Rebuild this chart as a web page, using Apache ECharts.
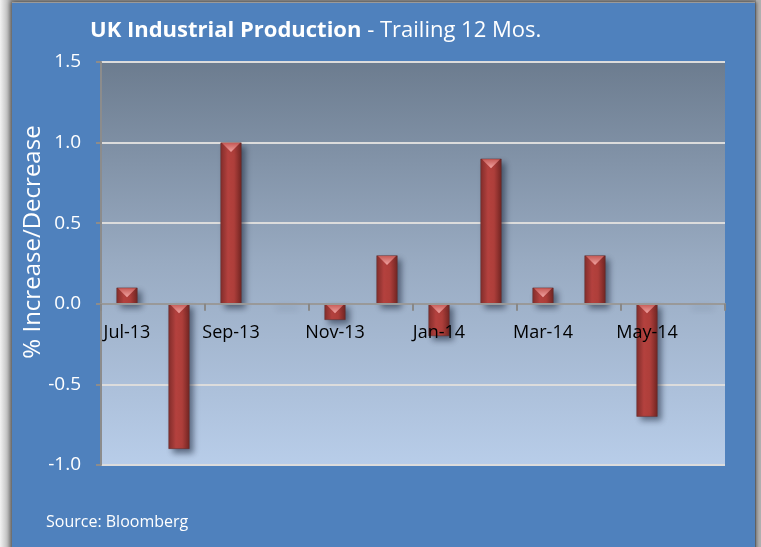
<!DOCTYPE html>
<html>
<head>
<meta charset="utf-8">
<script src="https://cdn.jsdelivr.net/npm/echarts@6/dist/echarts.min.js"></script>
<style>
  html,body{margin:0;padding:0;width:761px;height:547px;overflow:hidden;
    background:linear-gradient(to right,#f2f2f2 0px,#c4c4c4 7px,#8f8f8f 12px);}
  #panel{position:absolute;left:12px;top:2px;width:743px;height:560px;background:#4f81bd;
    border-top:1px solid #9a9a9a;box-shadow:2px 0 3px rgba(0,0,0,0.35),-2px 0 4px rgba(0,0,0,0.3);}
  #rightEdge{position:absolute;left:756px;top:0;width:5px;height:547px;background:#b0b0b0;}
  #main{position:absolute;left:0;top:0;width:761px;height:547px;}
</style>
</head>
<body>
<div id="rightEdge"></div>
<div id="panel"></div>
<div id="main"></div>
<script>
// data
let months=["Jul-13","Aug-13","Sep-13","Oct-13","Nov-13","Dec-13","Jan-14","Feb-14","Mar-14","Apr-14","May-14","Jun-14"]
let change=[0.1,-0.9,1.0,0,-0.1,0.3,-0.2,0.9,0.1,0.3,-0.7,0]
let yTicks={min:-1.0,max:1.5,step:0.5}

let font="Open Sans"
let myChart=echarts.init(document.getElementById("main"))

// top end of each bar, for the bevel highlight
let capData=change.map((v,i)=>v===0?null:[i,Math.max(v,0)])

// the category axis sits on the zero line, labels under it
let gridTop=62,gridBottom=82,plotH=547-gridTop-gridBottom
let zeroOffset=-plotH*(0-yTicks.min)/(yTicks.max-yTicks.min)

myChart.setOption({
  backgroundColor:"transparent",
  animation:false,
  textStyle:{fontFamily:font},
  title:{
    text:"{b|UK Industrial Production}{n| - Trailing 12 Mos.}",
    left:85,
    top:15,
    textStyle:{
      rich:{
        b:{color:"#fff",fontSize:22,fontWeight:"bold",fontFamily:font},
        n:{color:"#fff",fontSize:22,fontWeight:"normal",fontFamily:font}
      }
    }
  },
  graphic:[
    {
      type:"text",
      x:33,
      y:242,
      rotation:Math.PI/2,
      style:{text:"% Increase/Decrease",fill:"#fff",fontSize:24,fontFamily:font,align:"center",verticalAlign:"middle"}
    },
    {
      type:"text",
      x:46,
      y:522,
      style:{text:"Source: Bloomberg",fill:"#fff",fontSize:16,fontFamily:font,verticalAlign:"middle"}
    }
  ],
  grid:{
    left:101,
    right:36,
    top:gridTop,
    bottom:gridBottom,
    show:true,
    borderWidth:0,
    backgroundColor:new echarts.graphic.LinearGradient(0,0,0,1,[
      {offset:0,color:"#6c7c8f"},
      {offset:0.5,color:"#99abc2"},
      {offset:1,color:"#b8cde9"}
    ])
  },
  xAxis:{
    type:"category",
    data:months,
    z:5,
    offset:zeroOffset,
    axisLine:{onZero:false,lineStyle:{color:"#999",width:2}},
    axisTick:{show:true,interval:1,alignWithLabel:false,length:7,lineStyle:{color:"#888",width:2}},
    axisLabel:{interval:1,color:"#000",fontSize:18,margin:20,fontFamily:font},
    splitLine:{show:false}
  },
  yAxis:{
    type:"value",
    min:yTicks.min,
    max:yTicks.max,
    interval:yTicks.step,
    axisLine:{show:true,lineStyle:{color:"#8c8c8c",width:2}},
    axisTick:{show:true,length:5,lineStyle:{color:"#8c8c8c",width:2}},
    axisLabel:{color:"#fff",fontSize:19,margin:20,fontFamily:font,formatter:v=>v.toFixed(1)},
    splitLine:{lineStyle:{color:"#dcdcdc",width:2}}
  },
  series:[
    {
      name:"change",
      type:"bar",
      data:change,
      barWidth:21,
      itemStyle:{
        color:new echarts.graphic.LinearGradient(0,0,1,0,[
          {offset:0,color:"#852e2b"},
          {offset:0.35,color:"#b8433f"},
          {offset:0.65,color:"#ad3e3a"},
          {offset:1,color:"#732623"}
        ]),
        borderColor:"#5e2a2a",
        borderWidth:0.5,
        shadowColor:"rgba(20,30,50,0.55)",
        shadowBlur:6,
        shadowOffsetX:4,
        shadowOffsetY:4
      }
    },
    {
      name:"cap",
      type:"scatter",
      data:capData,
      symbol:"triangle",
      symbolRotate:180,
      symbolSize:[18,9],
      symbolOffset:[0,5],
      silent:true,
      z:3,
      itemStyle:{
        color:new echarts.graphic.LinearGradient(0,0,0,1,[
          {offset:0,color:"#f4a8a6"},
          {offset:1,color:"#c85c58"}
        ]),
        opacity:0.95
      }
    }
  ]
})
</script>
</body>
</html>
